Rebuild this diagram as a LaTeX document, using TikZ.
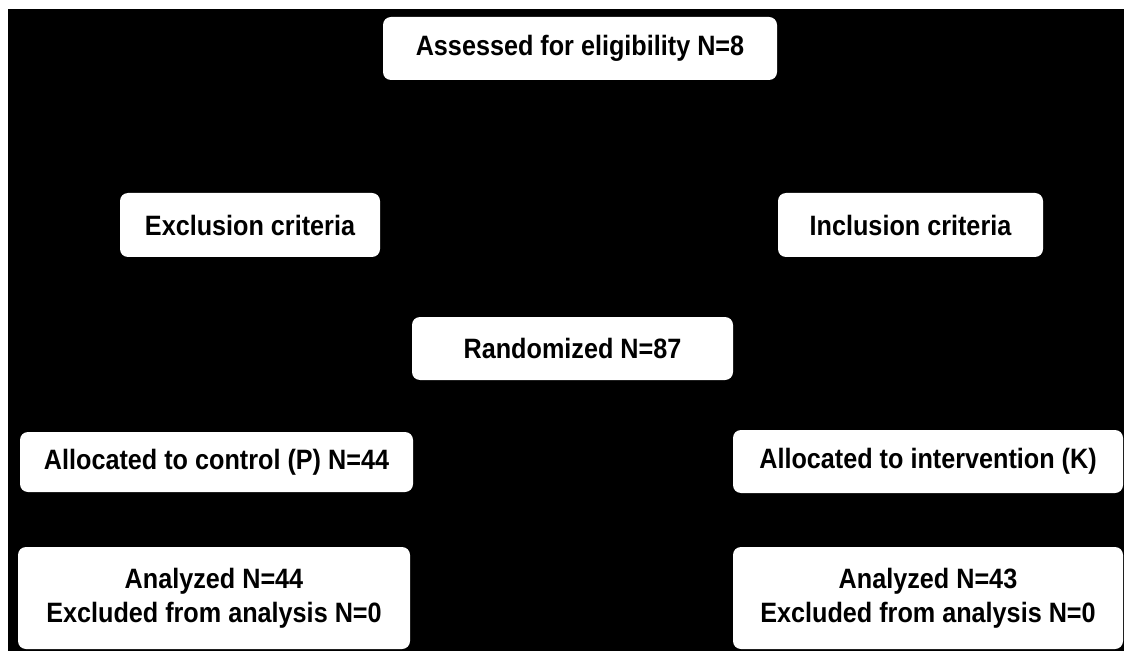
\documentclass[tikz,border=0pt]{standalone}
\usepackage{fontspec}
\newfontfamily\boxfont{Liberation Sans}[FakeStretch=0.9]
\usetikzlibrary{positioning}

\begin{document}
\begin{tikzpicture}[x=1pt, y=-1pt,
	box/.style={fill=white, rounded corners=8pt, inner sep=0pt, align=center, text=black,
		font=\boxfont\bfseries\fontsize{28}{34}\selectfont}]
\useasboundingbox (0,0) rectangle (1124,652);
\fill[black] (8,9) rectangle (1124,651);
% top row
\node[box, minimum width=394, minimum height=63] (assess) at (580,48.5) {Assessed for eligibility N=8};
% criteria
\node[box, minimum width=260, minimum height=64] (excl) at (250,225) {Exclusion criteria};
\node[box, minimum width=265, minimum height=64] (incl) at (910.5,225) {Inclusion criteria};
\node[box, minimum width=321, minimum height=63] (rand) at (572.5,348.5) {Randomized N=87};
% allocation
\node[box, minimum width=393, minimum height=60] (allocP) at (216.5,462) {Allocated to control (P) N=44};
\node[box, minimum width=390, minimum height=63] (allocK) at (928,461.5) {Allocated to intervention (K)};
% analysis
\node[box, minimum width=392, minimum height=102] (anaP) at (214,598) {Analyzed N=44\\Excluded from analysis N=0};
\node[box, minimum width=390, minimum height=102] (anaK) at (928,598) {Analyzed N=43\\Excluded from analysis N=0};
\end{tikzpicture}
\end{document}
